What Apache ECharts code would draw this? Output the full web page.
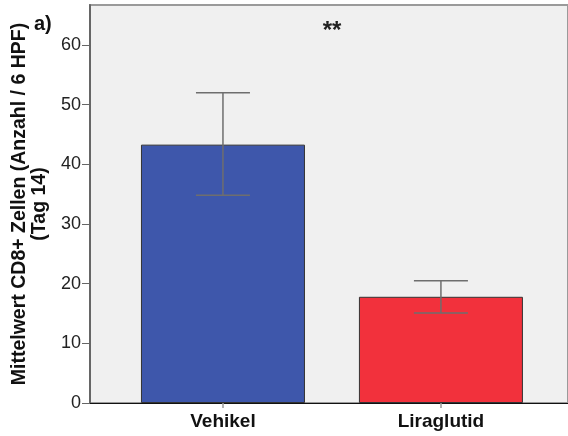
<!DOCTYPE html>
<html>
<head>
<meta charset="utf-8">
<script src="https://cdn.jsdelivr.net/npm/echarts@6/dist/echarts.min.js"></script>
<style>html,body{margin:0;padding:0;background:#fff}#c{width:568px;height:436px}</style>
</head>
<body>
<div id="c"></div>
<script>
var categories = ['Vehikel', 'Liraglutid'];
var means = [43.3, 17.8];
var errLow = [34.8, 15.1];
var errHigh = [52.0, 20.5];
var barColors = ['#3e57ab', '#f2313c'];
var yTicks = [0, 10, 20, 30, 40, 50, 60];

var chart = echarts.init(document.getElementById('c'));
var font = 'Liberation Sans, Arial, sans-serif';
chart.setOption({
  animation: false,
  grid: {left: 90, top: 5, right: 0, bottom: 33, show: true, backgroundColor: '#f0f0f0', borderColor: '#9a9a9a', borderWidth: 2, outerBoundsMode: 'none', containLabel: false},
  xAxis: {
    type: 'value', min: -0.61, max: 1.583,
    splitLine: {show: false},
    axisLine: {show: true, onZero: false, lineStyle: {color: '#111', width: 1}},
    axisTick: {show: true, length: 5, lineStyle: {color: '#999', width: 1.5}, customValues: [0, 1]},
    axisLabel: {customValues: [0, 1], formatter: function (v) { return categories[Math.round(v)]; },
      color: '#111', fontFamily: font, fontWeight: 'bold', fontSize: 19, margin: 9}
  },
  yAxis: {
    type: 'value', min: 0, max: 66.7,
    name: 'Mittelwert CD8+ Zellen (Anzahl / 6 HPF)\n(Tag 14)',
    nameLocation: 'middle', nameGap: 39,
    nameTextStyle: {fontFamily: font, fontWeight: 'bold', fontSize: 19.5, color: '#111', lineHeight: 20},
    splitLine: {show: false},
    axisLine: {show: true, onZero: false, lineStyle: {color: '#666', width: 2}},
    axisTick: {show: true, length: 8, lineStyle: {color: '#666', width: 1}, customValues: yTicks},
    axisLabel: {customValues: yTicks, color: '#222', fontFamily: font, fontSize: 18, margin: 9}
  },
  series: [
    {
      type: 'bar', barWidth: 164,
      data: means.map(function (m, i) { return {value: [i, m], itemStyle: {color: barColors[i]}}; }),
      itemStyle: {borderColor: '#333', borderWidth: 1}
    },
    {
      type: 'custom', z: 5,
      data: means.map(function (m, i) { return [i, errLow[i], errHigh[i]]; }),
      renderItem: function (params, api) {
        var x = api.value(0);
        var lo = api.coord([x, api.value(1)]);
        var hi = api.coord([x, api.value(2)]);
        var hw = 27;
        var st = {stroke: '#6e6e6e', lineWidth: 1.5};
        return {type: 'group', children: [
          {type: 'line', shape: {x1: lo[0], y1: lo[1], x2: hi[0], y2: hi[1]}, style: st},
          {type: 'line', shape: {x1: lo[0] - hw, y1: lo[1], x2: lo[0] + hw, y2: lo[1]}, style: st},
          {type: 'line', shape: {x1: hi[0] - hw, y1: hi[1], x2: hi[0] + hw, y2: hi[1]}, style: st}
        ]};
      }
    }
  ],
  graphic: [
    {type: 'text', x: 34, y: 24, style: {text: 'a)', font: 'bold 20px ' + font, fill: '#111', verticalAlign: 'middle'}},
    {type: 'text', x: 332, y: 31, style: {text: '**', font: 'bold 24px ' + font, fill: '#222', align: 'center', verticalAlign: 'middle'}}
  ]
});
</script>
</body>
</html>
